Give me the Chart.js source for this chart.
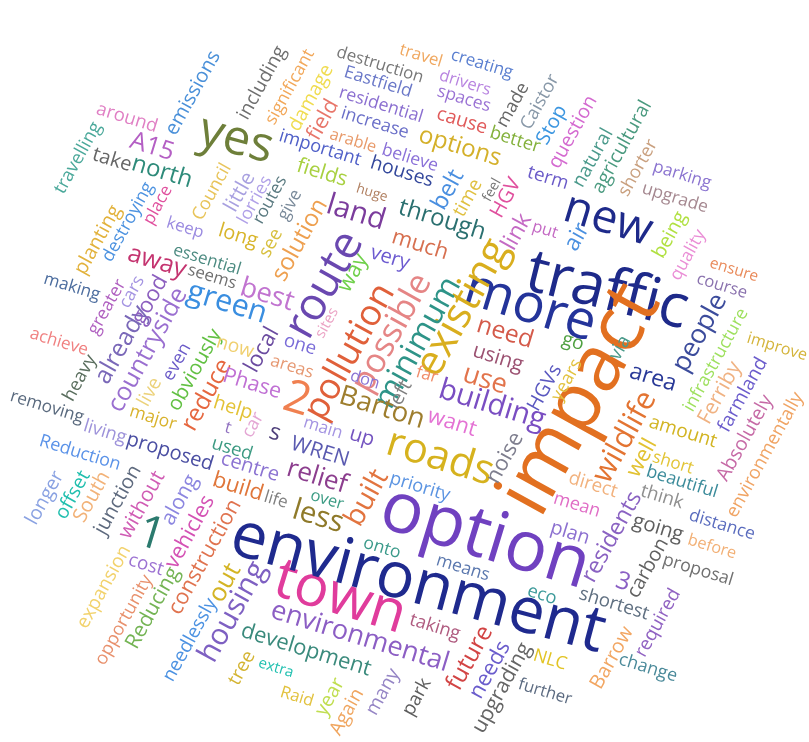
<!DOCTYPE html>
<html>
<head>
<meta charset="utf-8">
<script src="https://cdn.jsdelivr.net/npm/chart.js@4/dist/chart.umd.min.js"></script>
<style>
  html, body { margin: 0; padding: 0; background: #fff; }
  #wrap { width: 809px; height: 742px; }
</style>
</head>
<body>
<div id="wrap"><canvas id="cloud"></canvas></div>
<script>
// words of the cloud
const words = [
  'emissions','around','A15','including','yes','travelling','take','north','significant','damage',
  'field','destruction','travel','creating','Eastfield','drivers','residential','spaces','made','Caistor',
  'increase','cause','options','arable','important','believe','better','houses','fields','Stop',
  'question','natural','agricultural','shorter','parking','term','upgrade','HGV','feel','time',
  'belt','huge','little','lorries','Council','routes','give','see','solution','land',
  'through','much','very','way','route','link','put','air','new','being',
  'quality','ensure','course','traffic','more','people','infrastructure','improve','impact','via',
  'go','need','using','existing','minimum','possible','pollution','sites','best','one',
  'areas','green','away','essential','seems','keep','long','place','destroying','planting',
  'making','greater','cars','already','good','countryside','even','obviously','now','local',
  'achieve','heavy','live','reduce','Phase','2','major','help','removing','living',
  'proposed','t','car','s','used','centre','Reduction','build','life','longer',
  'offset','South','junction','without','along','vehicles','construction','1','expansion','cost',
  'opportunity','Reducing','needlessly','out','housing','tree','extra','development','environmental','town',
  'environment','option','onto','means','eco','taking','future','needs','upgrading','many',
  'park','Again','year','Raid','further','NLC','Barrow','change','required','shortest',
  '3','carbon','proposal','before','residents','plan','mean','direct','wildlife','well',
  'amount','short','beautiful','think','going','distance','Ferriby','farmland','Absolutely','environmentally',
  'HGVs','years','area','building','use','far','left','don','Barton','want',
  'main','up','WREN','roads','noise','relief','priority','over','built','less'
];

// weight of each word = how long it is drawn in the picture (px)
const weights = [
  93, 63, 45, 81, 75, 79, 40, 62, 83, 73,
  43, 90, 44, 64, 70, 53, 87, 55, 48, 60,
  70, 52, 85, 48, 85, 58, 52, 65, 52, 42,
  80, 64, 103, 62, 60, 42, 68, 42, 24, 40,
  42, 32, 42, 52, 62, 52, 32, 30, 90, 60,
  90, 58, 40, 40, 115, 38, 26, 28, 90, 50,
  55, 50, 52, 165, 135, 85, 115, 62, 250, 25,
  22, 58, 52, 150, 145, 130, 150, 32, 55, 33,
  44, 82, 60, 70, 50, 38, 40, 42, 88, 76,
  58, 60, 34, 85, 52, 138, 40, 90, 38, 48,
  60, 50, 30, 78, 60, 26, 48, 40, 76, 44,
  90, 6, 26, 11, 42, 60, 84, 52, 24, 58,
  52, 55, 76, 74, 54, 80, 128, 26, 92, 36,
  100, 90, 92, 40, 110, 36, 36, 135, 185, 135,
  385, 215, 38, 55, 30, 52, 70, 62, 100, 50,
  40, 50, 40, 34, 55, 34, 68, 60, 75, 72,
  14, 65, 73, 50, 100, 40, 48, 50, 100, 40,
  70, 42, 74, 44, 52, 68, 68, 82, 95, 140,
  50, 45, 48, 110, 45, 22, 30, 30, 88, 50,
  40, 25, 60, 110, 55, 62, 62, 34, 60, 52
];

// where each word sits: [x, y, rotation in degrees]
const H = 17, V = -61;
const spots = [
  [193,93,V],[127,118,H],[152,147,H],[262,83,V],[236,140,15],[78,158,V],[112,160,H],[162,172,H],[290,87,V],[311,98,V],
  [323,120,V],[380,65,H],[421,56,H],[482,64,H],[378,82,H],[465,83,H],[381,105,H],[464,99,H],[513,105,V],[540,102,V],
  [375,123,H],[462,121,H],[460,147,H],[353,141,H],[320,148,H],[410,158,H],[515,140,H],[402,172,H],[322,173,H],[552,125,V],
  [573,132,V],[593,158,V],[622,147,V],[638,168,V],[682,175,H],[548,178,H],[675,198,H],[506,198,V],[492,190,V],[468,198,V],
  [448,190,V],[372,193,H],[240,192,V],[255,200,V],[212,192,V],[270,200,V],[290,205,V],[271,243,V],[300,240,V],[356,213,H],
  [442,220,H],[420,245,H],[390,258,H],[353,273,V],[325,285,V],[517,232,V],[545,230,H],[577,237,V],[608,220,H],[670,235,V],
  [688,255,V],[734,270,H],[722,286,H],[607,292,14],[530,307,H],[700,333,V],[716,360,V],[777,347,H],[581,400,V],[620,348,V],
  [573,342,H],[505,333,H],[498,358,H],[463,308,V],[418,343,V],[392,333,V],[350,352,V],[327,323,V],[267,295,H],[300,345,H],
  [292,367,H],[227,303,H],[157,262,H],[207,260,H],[212,277,H],[185,228,H],[238,236,H],[158,205,V],[128,222,V],[98,240,V],
  [72,287,H],[107,307,V],[132,292,V],[122,345,V],[150,300,V],[148,350,V],[177,362,V],[195,370,V],[235,347,H],[262,350,V],
  [59,342,H],[80,378,V],[150,392,V],[207,395,V],[252,384,H],[297,400,H],[153,418,H],[233,408,H],[47,407,H],[105,432,H],
  [170,452,H],[228,428,H],[253,425,V],[275,433,H],[232,449,H],[250,467,H],[80,453,H],[238,487,H],[276,500,H],[45,498,V],
  [73,495,V],[92,497,V],[118,500,V],[142,505,V],[180,500,V],[190,532,V],[205,557,V],[151,535,H],[104,587,V],[146,565,H],
  [124,620,V],[153,608,V],[190,640,V],[225,583,V],[233,612,V],[242,668,V],[276,668,H],[306,650,H],[360,637,H],[340,598,H],
  [418,585,15],[485,538,H],[382,548,H],[463,568,H],[542,595,H],[435,627,H],[470,658,V],[490,670,V],[502,688,V],[383,692,V],
  [417,697,V],[347,712,V],[330,697,V],[297,697,H],[545,692,H],[550,660,H],[612,658,V],[648,668,H],[658,623,V],[614,604,H],
  [623,582,H],[648,568,V],[698,570,H],[712,547,H],[612,537,V],[570,533,H],[577,505,H],[593,485,H],[625,437,V],[642,458,V],
  [683,432,H],[673,463,H],[682,482,H],[662,497,H],[658,528,H],[722,525,H],[720,393,V],[743,395,V],[745,438,V],[765,455,V],
  [545,388,V],[567,380,V],[653,378,H],[492,405,H],[485,380,H],[427,375,H],[400,395,V],[365,380,H],[382,408,H],[452,423,H],
  [323,428,H],[362,437,H],[320,452,H],[440,458,H],[505,458,V],[317,477,H],[420,487,H],[327,500,H],[367,498,V],[318,517,H]
];

const colors = [
  '#4a90d9','#e07fc4','#b45fc4','#6e6e6e','#6e7f3a','#4aa89a','#666666','#2e8b7a','#f2a85a','#f0dc50',
  '#e8766a','#777777','#f0a860','#5a7fd0','#6a78c8','#b884e0','#8b6fd0','#9a72d4','#666666','#8898a8',
  '#6a6fc8','#e05a5a','#d4b02a','#e89a6a','#5060c8','#8a70d8','#84b13c','#34489c','#a8d040','#3c96e0',
  '#d46ad0','#4b9a8c','#4a9a7f','#c9a07f','#8b74d0','#6a5ac8','#a58890','#e0509e','#777777','#e0c040',
  '#4a8fe0','#b07f60','#a8a0e0','#b0a0e8','#e8c45a','#5a7a80','#7a8a9a','#d8c040','#eea050','#7b3c9c',
  '#2b7070','#d77050','#6c5ad0','#6fd04a','#6a48b0','#c46ac4','#c46ac4','#4a90e0','#1e2a8a','#b0e040',
  '#ea8ed6','#e98a5a','#8a72ae','#1e2a8a','#24349a','#3c4c9c','#9ee05e','#d4b43a','#e27020','#4a9a8a',
  '#4fa040','#d45a4a','#9c5272','#d9ae1e','#2e9488','#e58585','#e0603a','#eba3c4','#c174d0','#7a6cd8',
  '#e69872','#3a8ee0','#c4336f','#4b8a80','#6f6f6f','#9a8ae0','#d8b52b','#e0509e','#4c92e0','#e2b23c',
  '#4b6c9e','#b060c0','#a494e2','#7a68b8','#8c5fbf','#9a6fd0','#6a5ac8','#62c043','#f0d070','#6b4ba0',
  '#f08080','#5a6e5e','#ecd27a','#e6673f','#c070d4','#f08050','#d8b22c','#e3c235','#5a6a7e','#9d92da',
  '#4a4ea2','#9070c0','#e4a6d4','#4e3f7a','#3c9a82','#8c74d2','#5a92e8','#e0763a','#7f7f7f','#8aa2e2',
  '#21bfae','#f2b278','#5e6a7e','#d05cb4','#8c86e0','#d452b4','#e0734f','#2b7a6e','#f2d26c','#9c72d2',
  '#e8906c','#74b454','#4c92e2','#d4b424','#7e60c2','#d4b432','#20c0b0','#3a8a7c','#8c5ec4','#e03c9c',
  '#1f2a8e','#7041c0','#3a9a8a','#5b78ae','#3c9a9a','#b05c80','#d24444','#6a5ccc','#656565','#9585c5',
  '#5e5e5e','#f0a660','#c0de50','#e2c23e','#5b6a80','#e2c424','#f2a662','#4b8a9a','#9062c2','#5f6f80',
  '#8a5fc4','#616161','#707070','#f2b076','#8a62c2','#8c70d0','#e06ec6','#f2b27e','#e37432','#e2c232',
  '#d2b422','#e2c434','#3b8b9a','#8f8f8f','#5f5f5f','#5a6cbe','#f0b282','#6b5ccc','#c66aa6','#f0a464',
  '#5a58c0','#e2c23e','#2a3a98','#7a4ec2','#e2744c','#f08c6a','#7f7f7f','#8b74d4','#9e7e2e','#e472d4',
  '#a494e2','#7454c0','#5a5ab0','#d6b21e','#7e7e8e','#8c3e8e','#5b94e2','#3c9c84','#e2743f','#8f7a2a'
];

const FONT = '"Open Sans", "Noto Sans", sans-serif';

// draws each word at the pixel position chart.js gives its point
const wordPlugin = {
  id: 'words',
  afterDatasetsDraw(chart) {
    const ctx = chart.ctx;
    const meta = chart.getDatasetMeta(0);
    ctx.save();
    ctx.textAlign = 'center';
    ctx.textBaseline = 'middle';
    meta.data.forEach((pt, i) => {
      ctx.font = '100px ' + FONT;
      const w100 = ctx.measureText(words[i]).width;
      const size = weights[i] / w100 * 100;
      ctx.font = size.toFixed(2) + 'px ' + FONT;
      ctx.fillStyle = colors[i];
      ctx.save();
      ctx.translate(pt.x, pt.y);
      ctx.rotate(spots[i][2] * Math.PI / 180);
      ctx.fillText(words[i], 0, 0);
      ctx.restore();
    });
    ctx.restore();
  }
};

const ctx = document.getElementById('cloud').getContext('2d');
new Chart(ctx, {
  type: 'scatter',
  data: {
    datasets: [{
      label: 'words',
      data: words.map((w, i) => ({ x: spots[i][0], y: spots[i][1] })),
      pointRadius: 0,
      pointHoverRadius: 0
    }]
  },
  options: {
    responsive: true,
    maintainAspectRatio: false,
    animation: false,
    layout: { padding: 0 },
    plugins: {
      legend: { display: false },
      tooltip: { enabled: false }
    },
    scales: {
      x: { type: 'linear', min: 0, max: 809, display: false },
      y: { type: 'linear', min: 0, max: 742, reverse: true, display: false }
    }
  },
  plugins: [wordPlugin]
});
</script>
</body>
</html>
